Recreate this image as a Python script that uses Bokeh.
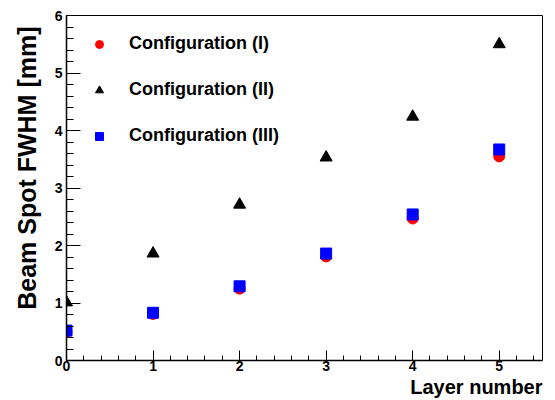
from bokeh.plotting import figure
from bokeh.models import (Legend, LegendItem, SingleIntervalTicker, Range1d, Title)
from bokeh.embed import file_html
from bokeh.resources import INLINE

layers = [0, 1, 2, 3, 4, 5]
config_1 = [0.50, 0.81, 1.25, 1.81, 2.47, 3.55]
config_2 = [1.01, 1.86, 2.71, 3.53, 4.24, 5.50]
config_3 = [0.52, 0.83, 1.29, 1.86, 2.54, 3.67]
labels = ["Configuration (I)", "Configuration (II)", "Configuration (III)"]
x_title = "Layer number"
y_title = "Beam Spot FWHM [mm]"

FONT = "Liberation Sans"

p = figure(width=547, height=399, output_backend="svg", toolbar_location=None,
           x_range=Range1d(0, 5.5), y_range=Range1d(0, 6))
p.min_border_left = 66
p.min_border_right = 5
p.min_border_top = 15
p.min_border_bottom = 39
p.grid.visible = False
p.outline_line_color = "black"
p.outline_line_width = 1
p.background_fill_color = "white"
p.border_fill_color = "white"

p.xaxis.ticker = SingleIntervalTicker(interval=1, num_minor_ticks=5)
p.yaxis.ticker = SingleIntervalTicker(interval=1, num_minor_ticks=5)
for ax in (p.xaxis, p.yaxis):
    ax.axis_line_color = "black"
    ax.axis_line_width = 1.5
    ax.major_tick_line_color = "black"
    ax.minor_tick_line_color = "black"
    ax.major_tick_out = 0
    ax.minor_tick_out = 0
    ax.major_label_text_font = FONT
    ax.major_label_text_font_style = "bold"
    ax.major_label_text_font_size = "14px"
    ax.major_label_text_color = "black"
p.yaxis.major_tick_in = 14
p.yaxis.minor_tick_in = 7
p.xaxis.major_tick_in = 10
p.xaxis.minor_tick_in = 5
p.yaxis.major_label_standoff = 4
p.xaxis.major_label_standoff = 0

p.add_layout(Title(text=x_title, align="right", text_font=FONT,
                   text_font_style="bold", text_font_size="20px",
                   text_color="black", standoff=0), "below")
p.add_layout(Title(text=y_title, align="right", text_font=FONT,
                   text_font_style="bold", text_font_size="25px",
                   text_color="black", standoff=21, offset=11), "left")

r1 = p.scatter(layers, config_1, marker="circle", size=11, color="red")
r2 = p.scatter(layers, config_2, marker="triangle", size=12, color="black")
r3 = p.scatter(layers, config_3, marker="square", size=11, color="blue")

legend = Legend(items=[LegendItem(label=labels[0], renderers=[r1]),
                       LegendItem(label=labels[1], renderers=[r2]),
                       LegendItem(label=labels[2], renderers=[r3])],
                location=(23, 214), padding=0, margin=0, spacing=25,
                glyph_width=20, glyph_height=20, label_height=20,
                label_standoff=20,
                border_line_alpha=0, background_fill_alpha=0,
                label_text_font=FONT, label_text_font_style="bold",
                label_text_font_size="18px", label_text_color="black")
p.add_layout(legend)

open("out.html", "w").write(file_html(p, INLINE))
